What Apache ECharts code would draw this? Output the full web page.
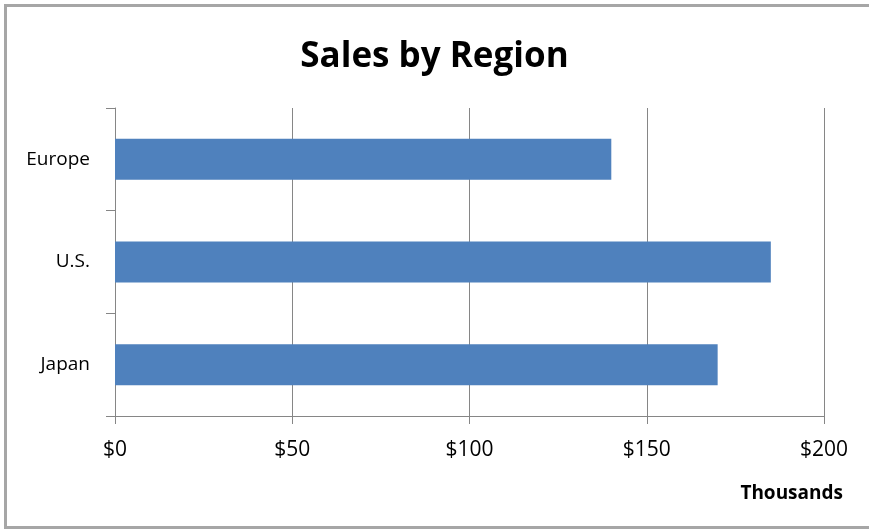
<!DOCTYPE html>
<html><head><meta charset="utf-8">
<script src="https://cdn.jsdelivr.net/npm/echarts@6/dist/echarts.min.js"></script>
<style>html,body{margin:0;padding:0;background:#fff}#c{width:869px;height:531px}</style>
</head><body><div id="c"></div>
<script>
var categories = ['Japan', 'U.S.', 'Europe'];
var sales = [170, 185, 140];
var xTicks = [0, 50, 100, 150, 200];
var chart = echarts.init(document.getElementById('c'), null, {renderer: 'canvas'});
var FONT = '"Open Sans", sans-serif';
chart.setOption({
  animation: false,
  title: {text: 'Sales by Region', left: 'center', top: 35,
    textStyle: {fontFamily: FONT, fontWeight: 'bold', fontSize: 35, color: '#000'}},
  graphic: [
    {type: 'rect', shape: {x: 5.5, y: 5.5, width: 900, height: 522}, silent: true,
     style: {fill: 'none', stroke: '#a6a6a6', lineWidth: 3}},
    {type: 'text', right: 26, top: 484, silent: true,
     style: {text: 'Thousands', fontFamily: FONT, fontWeight: 'bold', fontSize: 19, fill: '#000'}}
  ],
  grid: {left: 115, right: 45, top: 108, bottom: 115, containLabel: false},
  xAxis: {type: 'value', min: xTicks[0], max: xTicks[xTicks.length - 1], interval: 50,
    axisLine: {show: true, lineStyle: {color: '#868686', width: 1}},
    axisTick: {show: true, length: 8, lineStyle: {color: '#868686'}},
    splitLine: {show: true, lineStyle: {color: '#868686', width: 1}},
    axisLabel: {margin: 24, fontFamily: FONT, fontSize: 21, color: '#000',
      formatter: function (v) { return '$' + v; }}},
  yAxis: {type: 'category', data: categories,
    axisLine: {show: true, lineStyle: {color: '#868686', width: 1}},
    axisTick: {show: true, length: 9, lineStyle: {color: '#868686'}},
    axisLabel: {margin: 25, fontFamily: FONT, fontSize: 19, color: '#000'}},
  series: [{type: 'bar', data: sales, barWidth: '40%',
    itemStyle: {color: '#4F81BD'}}]
});
</script></body></html>
